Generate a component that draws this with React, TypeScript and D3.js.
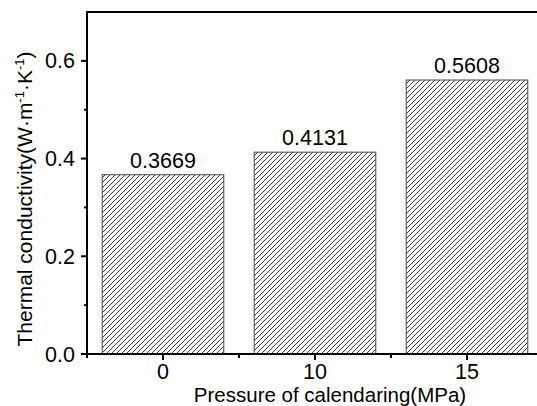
import React, { useRef, useEffect } from "react";
import * as d3 from "d3";

const categories = ["0", "10", "15"];
const values = [0.3669, 0.4131, 0.5608];
const valueLabels = ["0.3669", "0.4131", "0.5608"];
const yTicks = [0, 0.2, 0.4, 0.6];
const yMinorTicks = [0.1, 0.3, 0.5];

const App = () => {
  const ref = useRef<SVGSVGElement>(null);

  useEffect(() => {
    const width = 537;
    const left = 87;
    const top = 12;
    const bottom = 354;
    const font = "Arial, 'Liberation Sans', sans-serif";
    const fs = "21.5px";

    const svg = d3.select(ref.current);
    svg.selectAll("*").remove();

    const x = d3.scaleLinear().domain([-0.5, 2.5]).range([left, 543]);
    const y = d3.scaleLinear().domain([0, 0.7]).range([bottom, top]);
    const bw = (x(1) - x(0)) * 0.8;

    const defs = svg.append("defs");
    const s = 5;
    const pat = defs.append("pattern")
      .attr("id", "hatch")
      .attr("patternUnits", "userSpaceOnUse")
      .attr("width", s)
      .attr("height", s);
    pat.append("path")
      .attr("d", `M-1,1 L1,-1 M0,${s} L${s},0 M${s - 1},${s + 1} L${s + 1},${s - 1}`)
      .attr("stroke", "#222")
      .attr("stroke-width", 0.9);

    // bars
    svg.append("g")
      .selectAll("rect")
      .data(values)
      .join("rect")
      .attr("x", (d, i) => x(i) - bw / 2)
      .attr("y", d => y(d))
      .attr("width", bw)
      .attr("height", d => y(0) - y(d))
      .attr("fill", "url(#hatch)")
      .attr("stroke", "#444")
      .attr("stroke-width", 1);

    svg.append("g")
      .selectAll("text")
      .data(values)
      .join("text")
      .attr("x", (d, i) => x(i))
      .attr("y", d => y(d) - 7)
      .attr("text-anchor", "middle")
      .style("font-family", font)
      .style("font-size", fs)
      .text((d, i) => valueLabels[i]);

    // y axis
    const ya = svg.append("g").attr("transform", `translate(${left},0)`);
    ya.append("line").attr("x1", 0).attr("x2", 0).attr("y1", top - 1).attr("y2", bottom + 1)
      .attr("stroke", "#000").attr("stroke-width", 2);
    ya.selectAll(".maj").data(yTicks).join("line")
      .attr("x1", -6).attr("x2", 0).attr("y1", d => y(d)).attr("y2", d => y(d))
      .attr("stroke", "#000").attr("stroke-width", 2);
    ya.selectAll(".min").data(yMinorTicks).join("line")
      .attr("x1", -3).attr("x2", 0).attr("y1", d => y(d)).attr("y2", d => y(d))
      .attr("stroke", "#000").attr("stroke-width", 2);
    ya.selectAll("text").data(yTicks).join("text")
      .attr("x", -12).attr("y", d => y(d) + 7.5)
      .attr("text-anchor", "end")
      .style("font-family", font)
      .style("font-size", fs)
      .text(d => d3.format(".1f")(d));

    // top frame
    svg.append("line").attr("x1", left - 1).attr("x2", width).attr("y1", top).attr("y2", top)
      .attr("stroke", "#000").attr("stroke-width", 2);

    // x axis
    const xa = svg.append("g").attr("transform", `translate(0,${bottom})`);
    xa.append("line").attr("x1", left - 1).attr("x2", width).attr("y1", 0).attr("y2", 0)
      .attr("stroke", "#000").attr("stroke-width", 2);
    xa.selectAll(".maj").data(categories).join("line")
      .attr("x1", (d, i) => x(i)).attr("x2", (d, i) => x(i)).attr("y1", 0).attr("y2", 6)
      .attr("stroke", "#000").attr("stroke-width", 2);
    xa.selectAll(".min").data([-0.5, 0.5, 1.5]).join("line")
      .attr("x1", d => x(d)).attr("x2", d => x(d)).attr("y1", 0).attr("y2", 4)
      .attr("stroke", "#000").attr("stroke-width", 2);
    xa.selectAll("text").data(categories).join("text")
      .attr("x", (d, i) => x(i)).attr("y", 24.5)
      .attr("text-anchor", "middle")
      .style("font-family", font)
      .style("font-size", fs)
      .text(d => d);

    svg.append("text")
      .attr("x", 330).attr("y", 402)
      .attr("text-anchor", "middle")
      .style("font-family", font)
      .style("font-size", "20.5px")
      .text("Pressure of calendaring(MPa)");

    const yt = svg.append("text")
      .attr("transform", `translate(32,199) rotate(-90)`)
      .attr("text-anchor", "middle")
      .style("font-family", font)
      .style("font-size", "21px");
    yt.append("tspan").text("Thermal conductivity(W·m");
    yt.append("tspan").attr("dy", -8).style("font-size", "13px").text("-1");
    yt.append("tspan").attr("dy", 8).text("·K");
    yt.append("tspan").attr("dy", -8).style("font-size", "13px").text("-1");
    yt.append("tspan").attr("dy", 8).text(")");
  }, []);

  return (
    <svg
      ref={ref}
      width={537}
      height={406}
      style={{ position: "absolute", left: 0, top: 0, background: "#fff" }}
    />
  );
};

export default App;
